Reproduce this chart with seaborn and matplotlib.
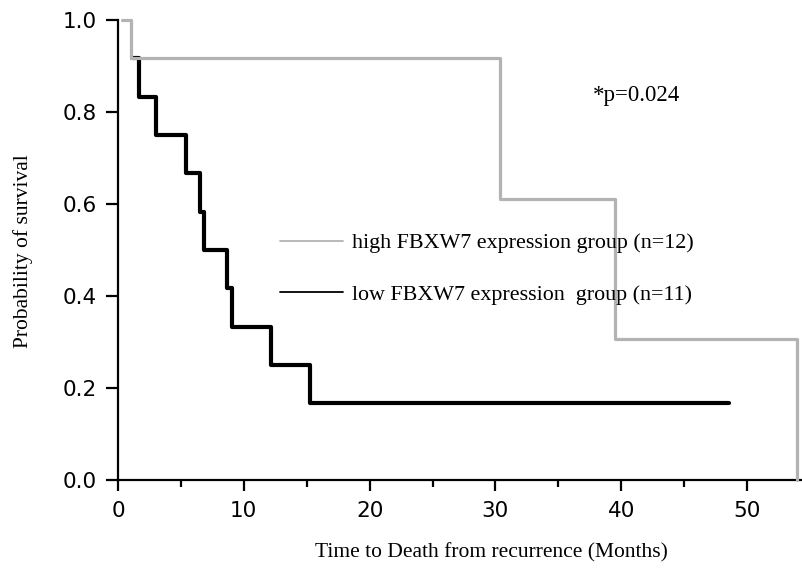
import matplotlib
matplotlib.use("Agg")
import matplotlib.pyplot as plt
from matplotlib.lines import Line2D
from matplotlib.ticker import MultipleLocator
import seaborn as sns
import pandas as pd

# Kaplan-Meier step points (months, survival probability)
high_time = [0.3, 1.0, 30.4, 39.5, 54.0]
high_surv = [1.0, 0.917, 0.611, 0.306, 0.0]
low_time = [1.1, 1.7, 3.0, 5.4, 6.5, 6.8, 8.7, 9.1, 12.2, 15.3, 48.6]
low_surv = [0.917, 0.833, 0.75, 0.667, 0.583, 0.5, 0.417, 0.333, 0.25, 0.167, 0.167]

high_label = "high FBXW7 expression group (n=12)"
low_label = "low FBXW7 expression  group (n=11)"
p_text = "*p=0.024"
x_label = "Time to Death from recurrence (Months)"
y_label = "Probability of survival"

high_color = "#b3b3b3"
low_color = "#000000"

sns.set_style("white")
plt.rcParams["font.family"] = ["DejaVu Sans"]
plt.rcParams.update({"text.color": "black", "axes.labelcolor": "black",
                     "xtick.color": "black", "ytick.color": "black"})

fig = plt.figure(figsize=(8.03, 5.69), dpi=100)
W, H = 803, 569
ax = fig.add_axes([118 / W, 89 / H, 685 / W, 460 / H])

df_low = pd.DataFrame({"t": low_time, "s": low_surv})
df_high = pd.DataFrame({"t": high_time, "s": high_surv})

sns.lineplot(data=df_low, x="t", y="s", ax=ax, estimator=None, sort=False,
             drawstyle="steps-post", color=low_color, linewidth=3.0,
             clip_on=False, zorder=3)
sns.lineplot(data=df_high, x="t", y="s", ax=ax, estimator=None, sort=False,
             drawstyle="steps-post", color=high_color, linewidth=2.3,
             clip_on=False, zorder=4)

ax.set_xlim(0, 54.45)
ax.set_ylim(0, 1.0)

for side in ("top", "right"):
    ax.spines[side].set_visible(False)
for side in ("left", "bottom"):
    ax.spines[side].set_linewidth(1.6)
    ax.spines[side].set_color("black")

ax.xaxis.set_major_locator(MultipleLocator(10))
ax.xaxis.set_minor_locator(MultipleLocator(5))
ax.yaxis.set_major_locator(MultipleLocator(0.2))
ax.yaxis.set_major_formatter(plt.FuncFormatter(lambda v, _: f"{v:.1f}"))

ax.tick_params(axis="x", which="major", direction="out", length=8, width=1.6,
               pad=7, labelsize=15.5, bottom=True, colors="black")
ax.tick_params(axis="x", which="minor", direction="out", length=5, width=1.6,
               bottom=True, colors="black")
ax.tick_params(axis="y", which="major", direction="out", length=9, width=1.6,
               pad=6, labelsize=15.5, left=True, colors="black")

serif = ["Liberation Serif", "DejaVu Serif"]

ax.set_xlabel(x_label, family=serif, fontsize=15.5, color="black")
ax.set_ylabel(y_label, family=serif, fontsize=15.5, color="black")
ax.xaxis.set_label_coords((491 - 118) / 685, (480 - 553) / 460)
ax.xaxis.label.set_va("center")
ax.yaxis.set_label_coords((23 - 118) / 685, (480 - 251) / 460)
ax.yaxis.label.set_va("center")

handles = [Line2D([], [], color=high_color, lw=1.3),
           Line2D([], [], color=low_color, lw=1.3)]
leg = ax.legend(handles, [high_label, low_label], loc="upper left",
                bbox_to_anchor=((280 - 118) / 685, (480 - 233) / 460),
                frameon=False, borderpad=0, borderaxespad=0,
                handlelength=2.85, handletextpad=0.45, labelspacing=1.42,
                prop={"family": serif, "size": 15.8})
for t in leg.get_texts():
    t.set_color("black")

ax.text((593 - 118) / 685, (480 - 95) / 460, p_text, transform=ax.transAxes,
        family=serif, fontsize=16.5, ha="left", va="center", color="black")

fig.savefig("out.png", dpi=100)
